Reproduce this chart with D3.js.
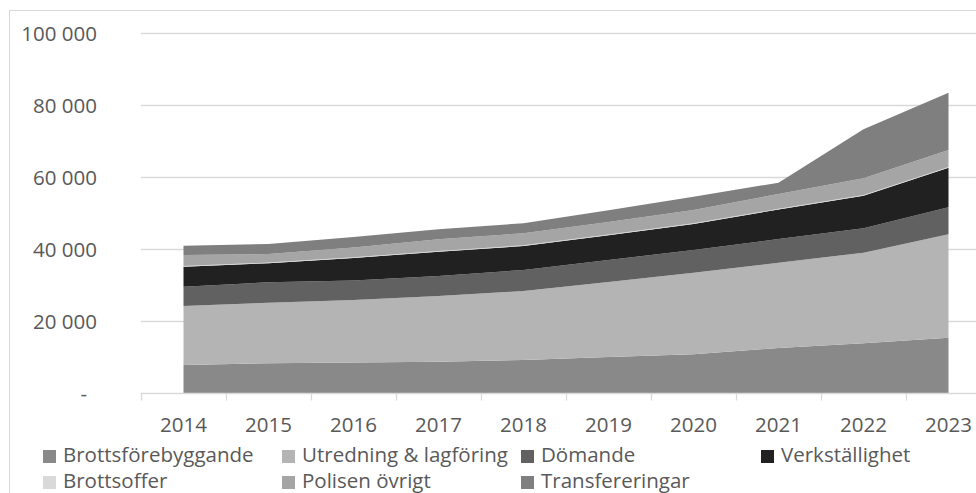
<!DOCTYPE html>
<html>
<head>
<meta charset="utf-8">
<script src="https://cdn.jsdelivr.net/npm/d3@7"></script>
<style>
  body { margin: 0; background: #fff; overflow: hidden; }
  text { font-family: "Open Sans", sans-serif; }
</style>
</head>
<body>
<svg id="chart" width="976" height="493"></svg>
<script>
const years = ['2014', '2015', '2016', '2017', '2018', '2019', '2020', '2021', '2022', '2023']
const brottsforebyggande = [7780, 8250, 8470, 8690, 9170, 10000, 10750, 12500, 13810, 15360]
const utredning = [16390, 16830, 17360, 18250, 19170, 20850, 22670, 23690, 25170, 28720]
const domande = [5360, 5670, 5420, 5560, 5830, 6100, 6310, 6580, 6780, 7500]
const verkstallighet = [5560, 5280, 6250, 6750, 6670, 6850, 7220, 8190, 9060, 11000]
const brottsoffer = [200, 200, 200, 200, 200, 200, 200, 200, 200, 200]
const polisen = [3050, 2380, 2720, 3240, 3330, 3500, 3690, 4110, 4630, 4720]
const transfereringar = [2580, 2780, 2920, 2780, 2780, 3250, 3690, 3140, 13610, 15920]
const yTicks = [0, 20000, 40000, 60000, 80000, 100000]

const seriesNames = ['Brottsförebyggande', 'Utredning & lagföring', 'Dömande', 'Verkställighet',
  'Brottsoffer', 'Polisen övrigt', 'Transfereringar']
const seriesValues = [brottsforebyggande, utredning, domande, verkstallighet, brottsoffer, polisen, transfereringar]
const colors = ['#898989', '#b4b4b4', '#616161', '#212121', '#d9d9d9', '#a5a5a5', '#7f7f7f']

const svg = d3.select('#chart')
const fontSize = 20.5

// chart frame (cropped on the right and bottom)
svg.append('rect')
  .attr('x', 9.5).attr('y', 10.5)
  .attr('width', 1100).attr('height', 600)
  .attr('fill', '#fff').attr('stroke', '#d9d9d9')

const plotLeft = 141, plotRight = 991
const x = d3.scalePoint().domain(years).range([plotLeft, plotRight]).padding(0.5)
const y = d3.scaleLinear().domain([0, 100000]).range([393, 33])

// grid
svg.append('g')
  .selectAll('line')
  .data(yTicks.filter(d => d > 0))
  .join('line')
    .attr('x1', plotLeft).attr('x2', plotRight)
    .attr('y1', d => Math.round(y(d)) + 0.5).attr('y2', d => Math.round(y(d)) + 0.5)
    .attr('stroke', '#d9d9d9').attr('stroke-width', 1.3)

// stacked areas
const table = years.map((yr, i) => {
  const row = { year: yr }
  seriesNames.forEach((n, j) => { row[n] = seriesValues[j][i] })
  return row
})
const stacked = d3.stack().keys(seriesNames)(table)
const area = d3.area()
  .x(d => x(d.data.year))
  .y0(d => y(d[0]))
  .y1(d => y(d[1]))

svg.append('g')
  .selectAll('path')
  .data(stacked)
  .join('path')
    .attr('d', area)
    .attr('fill', (d, i) => colors[i])

// x axis
const step = x.step()
const axisY = Math.round(y(0)) + 0.5
svg.append('line')
  .attr('x1', plotLeft).attr('x2', plotRight)
  .attr('y1', axisY).attr('y2', axisY)
  .attr('stroke', '#d9d9d9').attr('stroke-width', 1.3)
svg.append('g')
  .selectAll('line')
  .data(d3.range(years.length + 1))
  .join('line')
    .attr('x1', i => Math.round(plotLeft + i * step) + 0.5)
    .attr('x2', i => Math.round(plotLeft + i * step) + 0.5)
    .attr('y1', axisY).attr('y2', axisY + 7)
    .attr('stroke', '#d9d9d9').attr('stroke-width', 1.3)
svg.append('g')
  .selectAll('text')
  .data(years)
  .join('text')
    .attr('x', d => x(d)).attr('y', 432)
    .attr('text-anchor', 'middle')
    .attr('font-size', fontSize).attr('fill', '#595959')
    .text(d => d)

// y axis labels
const fmt = d => d === 0 ? '-' : d3.format(',')(d).replace(/,/g, ' ')
svg.append('g')
  .selectAll('text')
  .data(yTicks)
  .join('text')
    .attr('x', d => d === 0 ? 87 : 97)
    .attr('y', d => y(d) + 7.5)
    .attr('text-anchor', 'end')
    .attr('font-size', fontSize).attr('fill', '#595959')
    .text(fmt)

// legend
const legendCols = [43, 282, 521, 761]
const legendRows = [462, 488]
const legend = svg.append('g')
  .selectAll('g')
  .data(seriesNames)
  .join('g')
    .attr('transform', (d, i) => `translate(${legendCols[i % 4]},${legendRows[Math.floor(i / 4)]})`)
legend.append('rect')
  .attr('x', 0).attr('y', -12)
  .attr('width', 13).attr('height', 13)
  .attr('fill', (d, i) => colors[i])
legend.append('text')
  .attr('x', 20).attr('y', 0)
  .attr('font-size', fontSize).attr('fill', '#595959')
  .text(d => d)
</script>
</body>
</html>
